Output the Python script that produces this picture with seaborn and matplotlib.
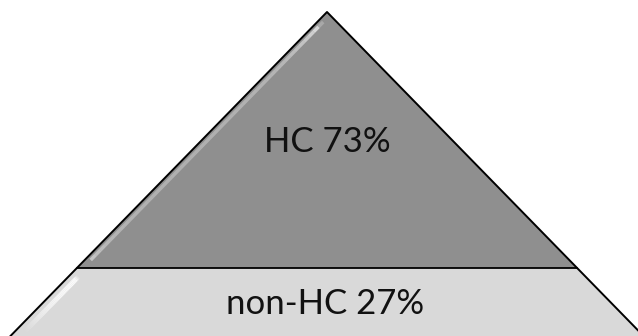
import numpy as np
import matplotlib
matplotlib.use("Agg")
import matplotlib.pyplot as plt
import seaborn as sns
from matplotlib.patches import Polygon

# Data
segments = ["HC", "non-HC"]
shares = [73, 27]
fill_colors = ["#8f8f8f", "#d9d9d9"]

sns.set_theme(style="white")
plt.rcParams["font.family"] = ["Lato", "DejaVu Sans"]

W, H = 638, 336
fig = plt.figure(figsize=(W / 100, H / 100), dpi=100)
ax = fig.add_axes([0, 0, 1, 1])
ax.set_xlim(0, W)
ax.set_ylim(H, 0)
ax.axis("off")

# Pyramid layout (pixel space)
apex_x, apex_y = 327.0, 12.0
slope = 0.977          # half-width per unit of height
base_y = 345.0
divider_y = 268.0
levels = [apex_y, divider_y, base_y]

def half_w(y):
    return (y - apex_y) * slope

label_base = [152, 314]
label_x = [327, 325]

for i, (seg, share, col) in enumerate(zip(segments, shares, fill_colors)):
    y0, y1 = levels[i], levels[i + 1]
    pts = [(apex_x - half_w(y0), y0), (apex_x + half_w(y0), y0),
           (apex_x + half_w(y1), y1), (apex_x - half_w(y1), y1)]
    ax.add_patch(Polygon(pts, closed=True, facecolor=col, edgecolor="none", zorder=1))
    # glossy highlight along the left edge
    if i == 0:
        inset, ya, yb, lw = 6, y0 + 10, y1 - 8, 2.5
    else:
        inset, ya, yb, lw = 10, y0 + 9, 331, 3.5
    n = 50
    ys = np.linspace(ya, yb, n)
    for k in range(n - 1):
        t = k / (n - 1)
        if i == 0:
            a = 0.30 + 0.45 * np.exp(-t / 0.08) + 0.25 * np.exp(-(1 - t) / 0.06)
            a *= min(1.0, t / 0.02 + 0.3) * min(1.0, (1 - t) / 0.02 + 0.3)
        else:
            a = 0.9 * (1 - t ** 2) * min(1.0, t / 0.05 + 0.3)
        ax.plot([apex_x - half_w(ys[k]) + inset, apex_x - half_w(ys[k + 1]) + inset],
                [ys[k], ys[k + 1]], color="white", lw=lw, alpha=float(np.clip(a, 0, 1)),
                solid_capstyle="butt", zorder=2)
    ax.text(label_x[i], label_base[i], f"{seg} {share}%", ha="center", va="baseline",
            fontsize=25, color="#111111", zorder=4)

# outlines
ax.plot([apex_x - half_w(base_y), apex_x, apex_x + half_w(base_y)],
        [base_y, apex_y, base_y], color="black", lw=1.4, zorder=3)
ax.plot([apex_x - half_w(divider_y), apex_x + half_w(divider_y)],
        [divider_y, divider_y], color="black", lw=1.3, zorder=3)

fig.savefig("out.png", dpi=100)
